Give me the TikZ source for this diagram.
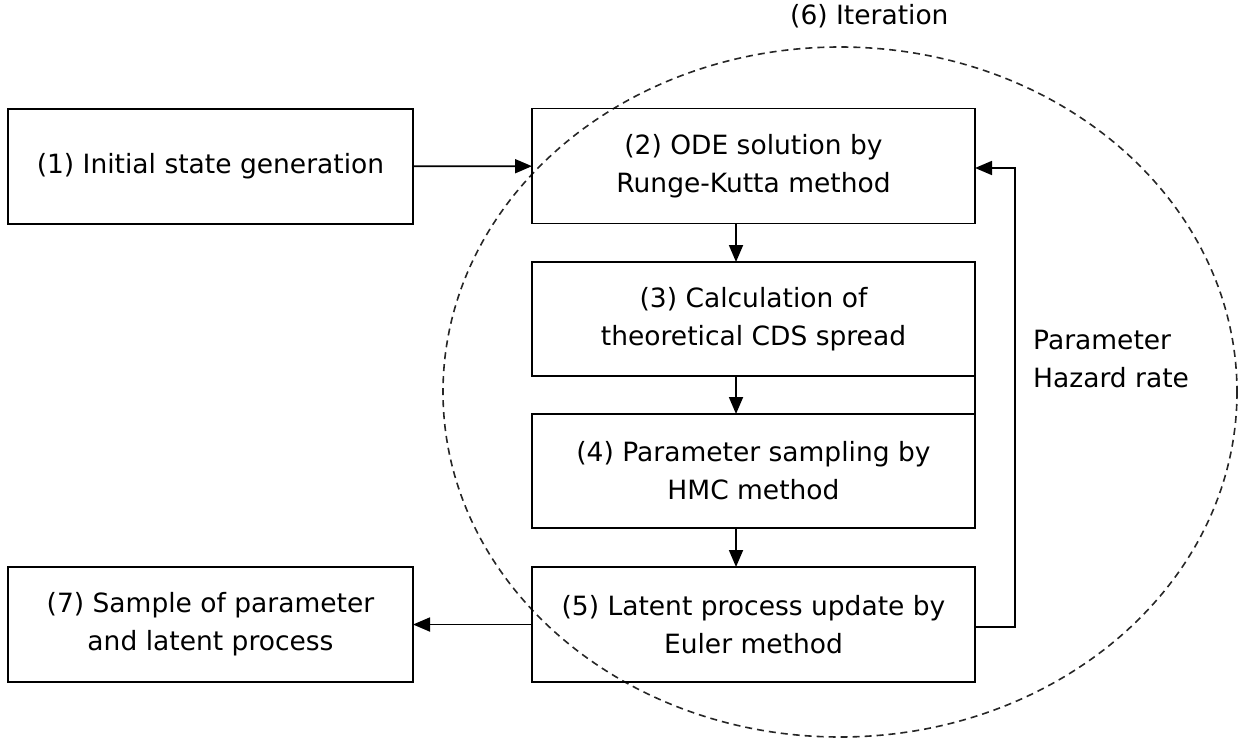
\documentclass[tikz,border=0pt]{standalone}
\usepackage{fontspec}
\setmainfont{DejaVu Sans}
\usetikzlibrary{arrows.meta}

\tikzset{
  stepbox/.style={draw, line width=1.8pt, inner sep=0pt, outer sep=0pt, align=center,
    minimum height=115pt, font=\fontsize{26.5}{38}\selectfont},
  flow/.style={line width=1.8pt, -{Triangle[length=17pt,width=14pt]}},
  plain/.style={line width=1.8pt},
  loop/.style={draw=black!85, line width=1.6pt, dash pattern=on 7pt off 5pt},
  caption/.style={inner sep=0pt, font=\fontsize{26.5}{38}\selectfont}
}

\begin{document}
\begin{tikzpicture}[x=1pt,y=-1pt]
  \useasboundingbox (0,0) rectangle (1247,746);

  % iteration loop
  \draw[loop] (840,392) ellipse [x radius=397, y radius=345];
  \node[caption, anchor=base west] (iter) at (790,25) {(6) Iteration};

  % process steps
  \node[stepbox, minimum width=405pt] (b1) at (210.5,166.5) {(1) Initial state generation};
  \node[stepbox, minimum width=443pt] (b2) at (753.5,166) {(2) ODE solution by\\Runge-Kutta method};
  \node[stepbox, minimum width=443pt, minimum height=114pt] (b3) at (753.5,319) {(3) Calculation of\\theoretical CDS spread};
  \node[stepbox, minimum width=443pt, minimum height=114pt] (b4) at (753.5,471) {(4) Parameter sampling by\\HMC method};
  \node[stepbox, minimum width=443pt] (b5) at (753.5,624.5) {(5) Latent process update by\\Euler method};
  \node[stepbox, minimum width=405pt] (b7) at (210.5,624.5) {(7) Sample of parameter\\and latent process};

  % feedback label
  \node[caption, anchor=base west, align=left] (fb) at (1033,387)
    {Parameter\\Hazard rate};

  % connectors
  \draw[flow] (b1) -- (b2);
  \draw[flow] (b2.south -| 736,0) -- (b3.north -| 736,0);
  \draw[flow] (b3.south -| 736,0) -- (b4.north -| 736,0);
  \draw[flow] (b4.south -| 736,0) -- (b5.north -| 736,0);
  \draw[plain] (b3.south east) -- (b4.north east);
  \coordinate (turnlow) at (1015,627);
  \coordinate (turnhigh) at (1015,168);
  \draw[flow] (b5.east |- turnlow) -- (turnlow) -- (turnhigh) -- (b2.east |- turnhigh);
  \draw[flow] (b5) -- (b7);
\end{tikzpicture}
\end{document}
